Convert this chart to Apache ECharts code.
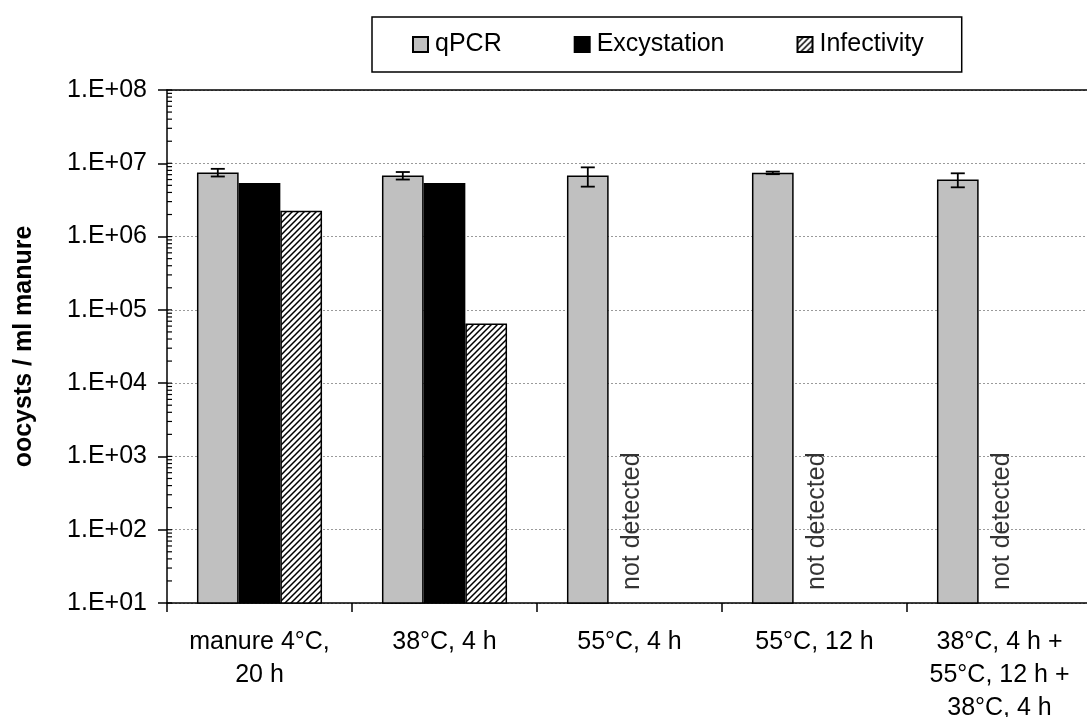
<!DOCTYPE html>
<html>
<head>
<meta charset="utf-8">
<script src="https://cdn.jsdelivr.net/npm/echarts@6/dist/echarts.min.js"></script>
<style>
  html, body { margin: 0; padding: 0; background: #fff; overflow: hidden; }
  #chart { width: 1087px; height: 717px; }
</style>
</head>
<body>
<div id="chart"></div>
<script>
// Treatment groups along the x axis
const categories = [
  'manure 4°C,\n20 h',
  '38°C, 4 h',
  '55°C, 4 h',
  '55°C, 12 h',
  '38°C, 4 h +\n55°C, 12 h +\n38°C, 4 h'
];
// Oocysts per ml manure for each method
const qpcr        = [7.5e6, 6.8e6, 6.8e6, 7.4e6, 6.0e6];
const qpcrErr     = [0.9e6, 0.8e6, 2.0e6, 0.3e6, 1.3e6];
const excystation = [5.4e6, 5.4e6, null, null, null];
const infectivity = [2.25e6, 6.5e4, null, null, null];
const notDetected = [null, null, 'not detected', 'not detected', 'not detected'];
// Decade exponents of the log axis
const decades = [1, 2, 3, 4, 5, 6, 7, 8];

const FONT = 'Liberation Sans, Arial, sans-serif';
const FS = 25;
const BAR_W = 41.7;

// Diagonal hatch used for the infectivity bars
function hatchPattern() {
  const c = document.createElement('canvas');
  c.width = 6; c.height = 6;
  const g = c.getContext('2d');
  g.fillStyle = '#fff';
  g.fillRect(0, 0, 6, 6);
  g.strokeStyle = '#000';
  g.lineWidth = 1.5;
  g.beginPath();
  g.moveTo(-1, 7); g.lineTo(7, -1);
  g.moveTo(-1, 1); g.lineTo(1, -1);
  g.moveTo(5, 7); g.lineTo(7, 5);
  g.stroke();
  return c;
}
const hatch = { image: hatchPattern(), repeat: 'repeat' };

// Minor ticks at 2..9 x 10^k plus the inner part of each decade tick
const axisMarks = [];
decades.forEach(function (d, i) {
  axisMarks.push([0, Math.pow(10, d)]);
  if (i < decades.length - 1) {
    for (let m = 2; m <= 9; m++) axisMarks.push([0, m * Math.pow(10, d)]);
  }
});

const chart = echarts.init(document.getElementById('chart'), null, { renderer: 'canvas' });

const option = {
  animation: false,
  textStyle: { fontFamily: FONT, color: '#000' },
  grid: {
    left: 167, right: -5, top: 90, bottom: 114,
    containLabel: false,
    outerBoundsMode: 'none'
  },
  legend: {
    left: 372, top: 17,
    padding: [15, 38, 15, 40],
    itemGap: 72,
    itemWidth: 15, itemHeight: 15,
    borderColor: '#000', borderWidth: 1.5,
    textStyle: { fontSize: FS, fontFamily: FONT, color: '#000', padding: [0, 0, 0, 2] },
    data: [
      { name: 'qPCR', icon: 'rect' },
      { name: 'Excystation', icon: 'rect' },
      { name: 'Infectivity', icon: 'rect' }
    ]
  },
  xAxis: [{
    type: 'category',
    data: categories,
    axisLine: { lineStyle: { color: '#000', width: 1.5 } },
    axisTick: { show: true, length: 9, alignWithLabel: false, lineStyle: { color: '#000', width: 1.5 } },
    axisLabel: { fontSize: FS, color: '#000', fontFamily: FONT, lineHeight: 33, margin: 23, interval: 0 }
  }, {
    type: 'category',
    position: 'top',
    data: categories,
    axisLine: { lineStyle: { color: '#000', width: 1.5 } },
    axisTick: { show: false },
    axisLabel: { show: false }
  }],
  yAxis: {
    type: 'log',
    logBase: 10,
    min: 10, max: 1e8,
    name: 'oocysts / ml manure',
    nameLocation: 'middle',
    nameGap: 130,
    nameTextStyle: { fontSize: FS, fontWeight: 'bold', color: '#000', fontFamily: FONT },
    axisLine: { show: true, lineStyle: { color: '#000', width: 1.5 } },
    axisTick: { show: true, length: 9, lineStyle: { color: '#000', width: 1.5 } },
    axisLabel: {
      fontSize: FS, color: '#000', fontFamily: FONT, margin: 20,
      formatter: function (v) {
        const e = Math.round(Math.log10(v));
        return '1.E+' + (e < 10 ? '0' : '') + e;
      }
    },
    splitLine: { show: true, lineStyle: { color: '#9a9a9a', width: 1, type: [2, 2] } }
  },
  series: [
    {
      name: 'qPCR', type: 'bar', data: qpcr,
      barWidth: BAR_W, barGap: '0%',
      itemStyle: { color: '#c0c0c0', borderColor: '#000', borderWidth: 1.5 }
    },
    {
      name: 'Excystation', type: 'bar', data: excystation,
      barWidth: BAR_W, barGap: '0%',
      itemStyle: { color: '#000', borderColor: '#000', borderWidth: 1.5 }
    },
    {
      name: 'Infectivity', type: 'bar', data: infectivity,
      barWidth: BAR_W, barGap: '0%',
      itemStyle: { color: hatch, borderColor: '#000', borderWidth: 1.5 }
    },
    {
      // error bars on the qPCR bars
      name: 'qPCR error', type: 'custom', z: 5,
      data: qpcr.map(function (v, i) { return [i, v, qpcrErr[i]]; }),
      renderItem: function (params, api) {
        const i = api.value(0), v = api.value(1), e = api.value(2);
        const hi = api.coord([i, v + e]);
        const lo = api.coord([i, v - e]);
        const x = hi[0] - BAR_W;
        const cap = 7;
        const style = { stroke: '#000', lineWidth: 1.8 };
        return {
          type: 'group',
          children: [
            { type: 'line', shape: { x1: x, y1: hi[1], x2: x, y2: lo[1] }, style: style },
            { type: 'line', shape: { x1: x - cap, y1: hi[1], x2: x + cap, y2: hi[1] }, style: style },
            { type: 'line', shape: { x1: x - cap, y1: lo[1], x2: x + cap, y2: lo[1] }, style: style }
          ]
        };
      }
    },
    {
      // minor ticks of the log axis
      name: 'axis marks', type: 'custom', z: 6, silent: true,
      data: axisMarks,
      renderItem: function (params, api) {
        const y = api.coord([0, api.value(1)])[1];
        const x0 = params.coordSys.x;
        return {
          type: 'line',
          shape: { x1: x0, y1: y, x2: x0 + 5, y2: y },
          style: { stroke: '#000', lineWidth: 1.2 }
        };
      }
    },
    {
      // "not detected" notes for groups without excystation / infectivity
      name: 'note', type: 'scatter', symbolSize: 0, silent: true,
      data: notDetected.map(function (t, i) { return t ? [i, 10] : null; }).filter(Boolean),
      label: {
        show: true,
        formatter: function (p) { return notDetected[p.data[0]]; },
        rotate: 90,
        align: 'left',
        verticalAlign: 'middle',
        offset: [13, 3],
        fontSize: FS,
        color: '#000',
        fontFamily: FONT
      }
    }
  ]
};

chart.setOption(option);
</script>
</body>
</html>
